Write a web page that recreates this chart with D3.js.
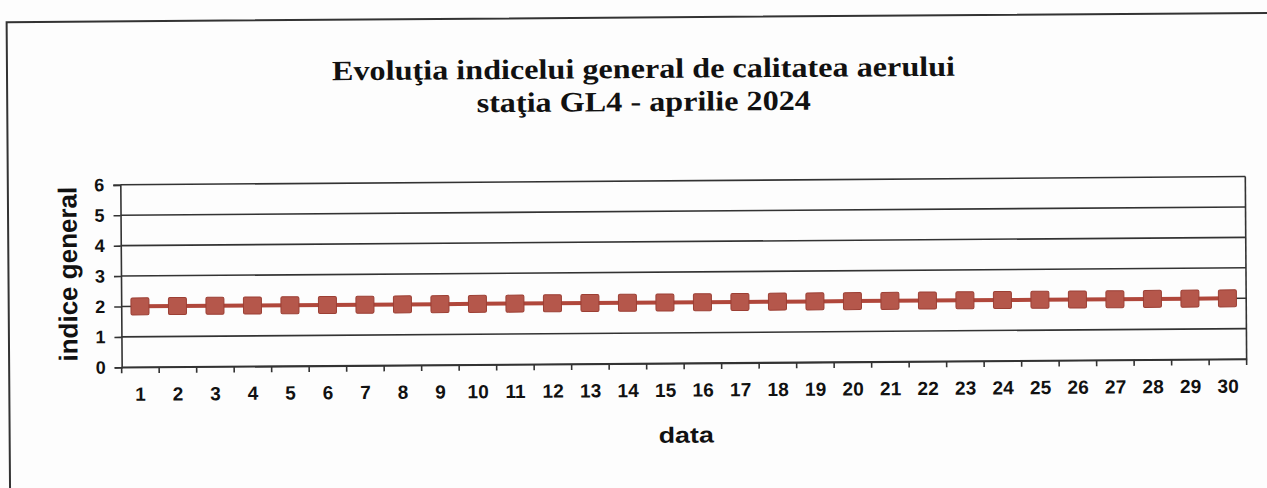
<!DOCTYPE html>
<html>
<head>
<meta charset="utf-8">
<title>Evoluţia indicelui general - GL4</title>
<script src="https://d3js.org/d3.v7.min.js"></script>
<style>
  body { margin: 0; background: #fff; }
</style>
</head>
<body>
<svg width="1267" height="488"></svg>
<script>
// days of april and the daily general index for station GL4
var days = d3.range(1, 31);
var indexValues = [2, 2, 2, 2, 2, 2, 2, 2, 2, 2,
                   2, 2, 2, 2, 2, 2, 2, 2, 2, 2,
                   2, 2, 2, 2, 2, 2, 2, 2, 2, 2];
var yTicks = [0, 1, 2, 3, 4, 5, 6];

var titleLines = ['Evoluţia indicelui general de calitatea aerului', 'staţia GL4 - aprilie 2024'];

var plotLeft = 121, plotRight = 1246, plotTop = 181, plotBottom = 363.5;
var lineColor = '#b0473b';
var sans = '"Liberation Sans", Arial, sans-serif';

var svg = d3.select('svg');
svg.append('rect').attr('width', 1267).attr('height', 488).attr('fill', '#fdfdfd');

// the scanned page is a little tilted
var g = svg.append('g').attr('transform', 'rotate(-0.42 640 276)');

g.append('rect')
  .attr('x', 8.5).attr('y', 17.5)
  .attr('width', 1300).attr('height', 520)
  .attr('fill', 'none').attr('stroke', '#333').attr('stroke-width', 2);

g.selectAll('text.title')
  .data(titleLines)
  .enter().append('text')
  .attr('class', 'title')
  .attr('transform', function(d, i) { return 'translate(645,' + (78 + i * 33) + ') scale(1.15,1)'; })
  .attr('text-anchor', 'middle')
  .style('font-family', '"Liberation Serif", "Times New Roman", serif')
  .style('font-weight', 'bold')
  .style('font-size', '28px')
  .attr('fill', '#111')
  .text(function(d) { return d; });

var x = d3.scaleBand().domain(days).range([plotLeft, plotRight]);
var y = d3.scaleLinear().domain([0, 6]).range([plotBottom, plotTop]);

// gridlines
g.selectAll('line.grid')
  .data(yTicks)
  .enter().append('line')
  .attr('x1', plotLeft).attr('x2', plotRight)
  .attr('y1', function(d) { return y(d); })
  .attr('y2', function(d) { return y(d); })
  .attr('stroke', '#333').attr('stroke-width', 1.6);

g.append('line')
  .attr('x1', plotRight).attr('x2', plotRight)
  .attr('y1', plotTop).attr('y2', plotBottom)
  .attr('stroke', '#333').attr('stroke-width', 1.6);

var yAxis = g.append('g')
  .attr('transform', 'translate(' + plotLeft + ',0)')
  .call(d3.axisLeft(y).tickValues(yTicks).tickSize(7).tickPadding(9).tickFormat(d3.format('d')));

var xAxis = g.append('g')
  .attr('transform', 'translate(0,' + plotBottom + ')')
  .call(d3.axisBottom(x).tickSize(0).tickPadding(20));

// tick marks between categories
xAxis.selectAll('line.sep')
  .data(d3.range(0, 31))
  .enter().append('line')
  .attr('class', 'sep')
  .attr('x1', function(d) { return plotLeft + d * x.step(); })
  .attr('x2', function(d) { return plotLeft + d * x.step(); })
  .attr('y1', 0).attr('y2', 6)
  .attr('stroke', '#333').attr('stroke-width', 1.6);

[yAxis, xAxis].forEach(function(a) {
  a.select('.domain').attr('stroke', '#333').attr('stroke-width', 1.6);
  a.selectAll('.tick line').attr('stroke', '#333').attr('stroke-width', 1.6);
  a.selectAll('.tick text')
    .attr('fill', '#111')
    .style('font-family', sans)
    .style('font-weight', 'bold')
    .style('font-size', '18px');
});
xAxis.selectAll('.tick text').style('font-size', '19px');

g.append('text')
  .attr('transform', 'translate(77,270) rotate(-90)')
  .attr('text-anchor', 'middle')
  .style('font-family', sans)
  .style('font-weight', 'bold')
  .style('font-size', '26px')
  .attr('fill', '#111')
  .text('indice general');

g.append('text')
  .attr('transform', 'translate(685,443) scale(1.22,1)')
  .attr('text-anchor', 'middle')
  .style('font-family', sans)
  .style('font-weight', 'bold')
  .style('font-size', '22px')
  .attr('fill', '#111')
  .text('data');

var pts = days.map(function(d, i) { return [d, indexValues[i]]; });
var cx = function(p) { return x(p[0]) + x.bandwidth() / 2; };

g.append('path')
  .datum(pts)
  .attr('fill', 'none')
  .attr('stroke', lineColor)
  .attr('stroke-width', 4)
  .attr('d', d3.line().x(cx).y(function(p) { return y(p[1]); }));

g.selectAll('rect.mark')
  .data(pts)
  .enter().append('rect')
  .attr('class', 'mark')
  .attr('x', function(p) { return cx(p) - 9; })
  .attr('y', function(p) { return y(p[1]) - 8.5; })
  .attr('width', 18).attr('height', 17)
  .attr('rx', 1.5)
  .attr('fill', '#b5574b')
  .attr('stroke', '#9c3f34').attr('stroke-width', 1);
</script>
</body>
</html>
